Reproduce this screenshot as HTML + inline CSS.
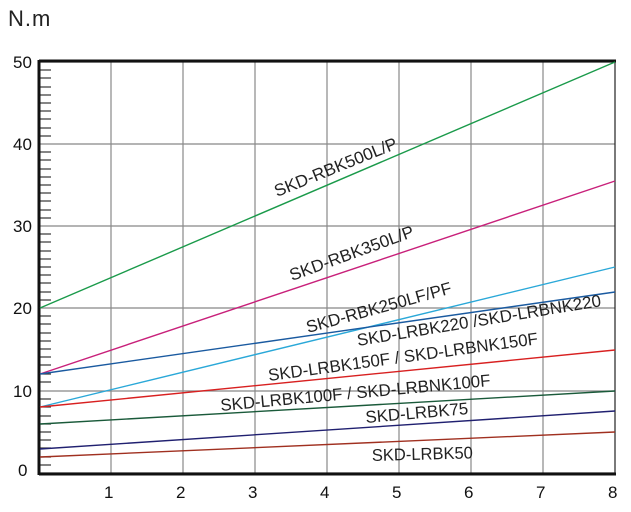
<!DOCTYPE html><html><head><style>body{margin:0;background:#fff}svg{display:block}</style></head><body>
<svg width="631" height="512" xmlns="http://www.w3.org/2000/svg" font-family="Liberation Sans, sans-serif">
<text x="8" y="26" font-size="22" fill="#222" letter-spacing="1">N.m</text>
<g stroke="#888" stroke-width="1.2">
<line x1="111" y1="62" x2="111" y2="473"/><line x1="183" y1="62" x2="183" y2="473"/><line x1="255" y1="62" x2="255" y2="473"/><line x1="327" y1="62" x2="327" y2="473"/><line x1="399" y1="62" x2="399" y2="473"/><line x1="471" y1="62" x2="471" y2="473"/><line x1="543" y1="62" x2="543" y2="473"/>
<line x1="39" y1="144" x2="615" y2="144"/><line x1="39" y1="226" x2="615" y2="226"/><line x1="39" y1="308" x2="615" y2="308"/><line x1="39" y1="391" x2="615" y2="391"/>
</g>
<g stroke="#333" stroke-width="1.2" id="t">
<line x1="40" y1="70" x2="51" y2="70"/><line x1="40" y1="78" x2="51" y2="78"/><line x1="40" y1="87" x2="51" y2="87"/><line x1="40" y1="95" x2="51" y2="95"/><line x1="40" y1="103" x2="51" y2="103"/><line x1="40" y1="111" x2="51" y2="111"/><line x1="40" y1="119" x2="51" y2="119"/><line x1="40" y1="128" x2="51" y2="128"/><line x1="40" y1="136" x2="51" y2="136"/>
</g>
<use href="#t" y="82"/><use href="#t" y="164"/><use href="#t" y="246"/><use href="#t" y="329"/>
<rect x="39" y="62" width="576" height="411" fill="none" stroke="#222" stroke-width="1.2"/>
<line x1="39" y1="61" x2="616" y2="61" stroke="#111" stroke-width="3"/>
<line x1="39" y1="474" x2="616" y2="474" stroke="#111" stroke-width="3"/>
<line x1="39" y1="60" x2="39" y2="475" stroke="#111" stroke-width="3"/>
<g fill="none" stroke-width="1.4">
<line x1="40" y1="308" x2="615" y2="62" stroke="#1a9a4a"/>
<line x1="40" y1="374" x2="615" y2="181" stroke="#c8207a"/>
<line x1="40" y1="407" x2="615" y2="267" stroke="#2aa8d8"/>
<line x1="40" y1="374" x2="615" y2="292" stroke="#1a5aa0"/>
<line x1="40" y1="407" x2="615" y2="350" stroke="#d82020"/>
<line x1="40" y1="424" x2="615" y2="391" stroke="#1a5a3a"/>
<line x1="40" y1="449" x2="615" y2="411" stroke="#202070"/>
<line x1="40" y1="457" x2="615" y2="432" stroke="#a03020"/>
</g>
<g font-size="17" fill="#111">
<text x="13" y="68">50</text><text x="13" y="150">40</text><text x="13" y="232">30</text><text x="13" y="314">20</text><text x="13" y="397">10</text><text x="18" y="476">0</text>
<text x="104" y="498">1</text><text x="176" y="498">2</text><text x="248" y="498">3</text><text x="320" y="498">4</text><text x="392" y="498">5</text><text x="464" y="498">6</text><text x="536" y="498">7</text><text x="608" y="498">8</text>
</g>
<g font-size="17" fill="#222">
<text transform="translate(277,197) rotate(-22)" textLength="131" lengthAdjust="spacingAndGlyphs">SKD-RBK500L/P</text>
<text transform="translate(292,281) rotate(-20)" textLength="131" lengthAdjust="spacingAndGlyphs">SKD-RBK350L/P</text>
<text transform="translate(308,333) rotate(-15.4)" textLength="150" lengthAdjust="spacingAndGlyphs">SKD-RBK250LF/PF</text>
<text transform="translate(358,346) rotate(-9.3)" textLength="247" lengthAdjust="spacingAndGlyphs">SKD-LRBK220 /SKD-LRBNK220</text>
<text transform="translate(269,381) rotate(-7.8)" textLength="272" lengthAdjust="spacingAndGlyphs">SKD-LRBK150F / SKD-LRBNK150F</text>
<text transform="translate(221,411) rotate(-5.3)" textLength="271" lengthAdjust="spacingAndGlyphs">SKD-LRBK100F / SKD-LRBNK100F</text>
<text transform="translate(366,423) rotate(-5)" textLength="103" lengthAdjust="spacingAndGlyphs">SKD-LRBK75</text>
<text transform="translate(372,461) rotate(-1.5)" textLength="101" lengthAdjust="spacingAndGlyphs">SKD-LRBK50</text>
</g>
</svg>
</body></html>
